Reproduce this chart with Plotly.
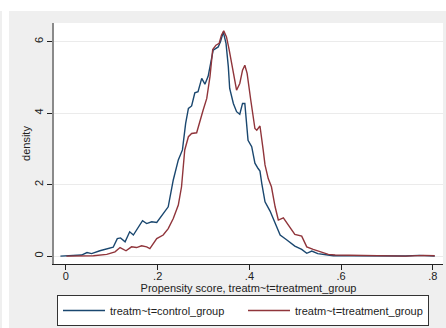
import plotly.graph_objects as go

# Control group density
control_x = [-0.012, 0.023, 0.034, 0.046, 0.056, 0.074, 0.096, 0.103, 0.112, 0.119, 0.129, 0.139, 0.147,
             0.156, 0.167, 0.176, 0.187, 0.198, 0.209, 0.223, 0.234, 0.245, 0.254, 0.261, 0.267, 0.274,
             0.281, 0.288, 0.296, 0.303, 0.310, 0.321, 0.332, 0.337, 0.343, 0.349, 0.354, 0.357, 0.365,
             0.372, 0.379, 0.385, 0.390, 0.397, 0.405, 0.412, 0.419, 0.423, 0.427, 0.434, 0.445, 0.456,
             0.467, 0.481, 0.499, 0.514, 0.525, 0.536, 0.549, 0.571, 0.583, 0.62, 0.66, 0.70, 0.74,
             0.77, 0.785, 0.804]
control_y = [0, 0.01, 0.03, 0.10, 0.07, 0.15, 0.21, 0.25, 0.49, 0.51, 0.40, 0.68, 0.59,
             0.77, 0.99, 0.91, 0.96, 0.94, 1.15, 1.38, 2.13, 2.69, 2.97, 3.71, 4.13, 4.20,
             4.57, 4.60, 4.97, 4.81, 5.03, 5.76, 5.85, 6.00, 6.27, 5.95, 5.30, 4.69, 4.27,
             4.04, 3.97, 4.27, 4.27, 3.24, 3.06, 2.60, 2.45, 2.38, 2.03, 1.52, 1.26, 0.93,
             0.59, 0.46, 0.28, 0.19, 0.08, 0.14, 0.07, 0.03, 0.01, 0.01, 0.005, 0.01, 0.005,
             0.02, 0.02, 0.0]

# Treatment group density
treat_x = [0.001, 0.037, 0.060, 0.089, 0.107, 0.118, 0.131, 0.143, 0.154, 0.165, 0.176, 0.183, 0.198,
           0.212, 0.223, 0.234, 0.245, 0.252, 0.257, 0.259, 0.267, 0.274, 0.285, 0.292, 0.299, 0.307,
           0.314, 0.320, 0.327, 0.334, 0.339, 0.344, 0.350, 0.356, 0.363, 0.372, 0.379, 0.385, 0.390,
           0.395, 0.403, 0.412, 0.416, 0.423, 0.430, 0.434, 0.441, 0.448, 0.456, 0.463, 0.474, 0.485,
           0.499, 0.514, 0.525, 0.539, 0.554, 0.572, 0.587, 0.62, 0.66, 0.70, 0.74, 0.78, 0.804]
treat_y = [0, 0, 0.01, 0.05, 0.12, 0.24, 0.15, 0.26, 0.24, 0.29, 0.26, 0.21, 0.49,
           0.59, 0.77, 1.05, 1.43, 1.94, 2.69, 2.97, 3.34, 3.43, 3.45, 3.80, 4.08, 4.41,
           5.02, 5.78, 5.90, 5.95, 6.18, 6.30, 6.13, 5.76, 5.25, 4.64, 4.83, 5.20, 5.34,
           5.11, 4.36, 3.57, 3.52, 3.64, 2.97, 2.55, 2.17, 1.94, 1.38, 1.01, 1.07, 0.87,
           0.61, 0.56, 0.26, 0.19, 0.12, 0.05, 0.03, 0.02, 0.01, 0.0, 0.0, 0.02, 0.01]

x_ticks = [0, 0.2, 0.4, 0.6, 0.8]
x_tick_labels = ["0", ".2", ".4", ".6", ".8"]
y_ticks = [0, 2, 4, 6]
y_tick_labels = ["0", "2", "4", "6"]

series_names = ["treatm~t=control_group", "treatm~t=treatment_group"]

W, H = 446, 328
L, R, T, B = 54, 3, 23, 64
pw, ph = W - L - R, H - T - B

def px_x(p):
    return (p - L) / pw

def px_y(p):
    return (H - B - p) / ph

fig = go.Figure()
fig.add_trace(go.Scatter(x=control_x, y=control_y, mode="lines", name=series_names[0],
                         line=dict(color="#1a476f", width=1.4)))
fig.add_trace(go.Scatter(x=treat_x, y=treat_y, mode="lines", name=series_names[1],
                         line=dict(color="#90353b", width=1.4)))

fig.update_layout(
    width=W, height=H,
    margin=dict(l=L, r=R, t=T, b=B, autoexpand=False),
    paper_bgcolor="#efefef",
    plot_bgcolor="white",
    font=dict(family="Liberation Sans, Arial, sans-serif", size=11, color="#222"),
    showlegend=True,
    legend=dict(orientation="h", x=px_x(57), y=px_y(295), xanchor="left", yanchor="top",
                bgcolor="white", bordercolor="#333", borderwidth=1,
                font=dict(size=11, color="#222"), entrywidth=128, itemwidth=42,
                tracegroupgap=0),
    xaxis=dict(range=[-0.026, 0.822], tickvals=x_ticks, ticktext=x_tick_labels,
               showline=True, linecolor="#222", linewidth=1, ticks="outside", ticklen=5,
               tickcolor="#222", showgrid=False, zeroline=False, ticklabelstandoff=-3,
               title=dict(text="Propensity score, treatm~t=treatment_group", standoff=0,
                          font=dict(size=11))),
    yaxis=dict(range=[-0.22, 6.52], tickvals=y_ticks, ticktext=y_tick_labels, tickangle=-90,
               showline=True, linecolor="#8a8a8a", linewidth=2, ticks="outside", ticklen=5,
               tickcolor="#222", showgrid=True, gridcolor="#ebebeb", gridwidth=1, zeroline=False,
               title=dict(text="density", standoff=0, font=dict(size=11))),
    shapes=[
        dict(type="rect", xref="paper", yref="paper", x0=px_x(-5), x1=px_x(W + 5),
             y0=px_y(11), y1=px_y(-5), fillcolor="white", line=dict(width=0), layer="below"),
        dict(type="rect", xref="paper", yref="paper", x0=px_x(2), x1=px_x(9),
             y0=px_y(H + 5), y1=px_y(-5), fillcolor="white", line=dict(width=0), layer="below"),
    ],
)

fig.write_html("out.html")
